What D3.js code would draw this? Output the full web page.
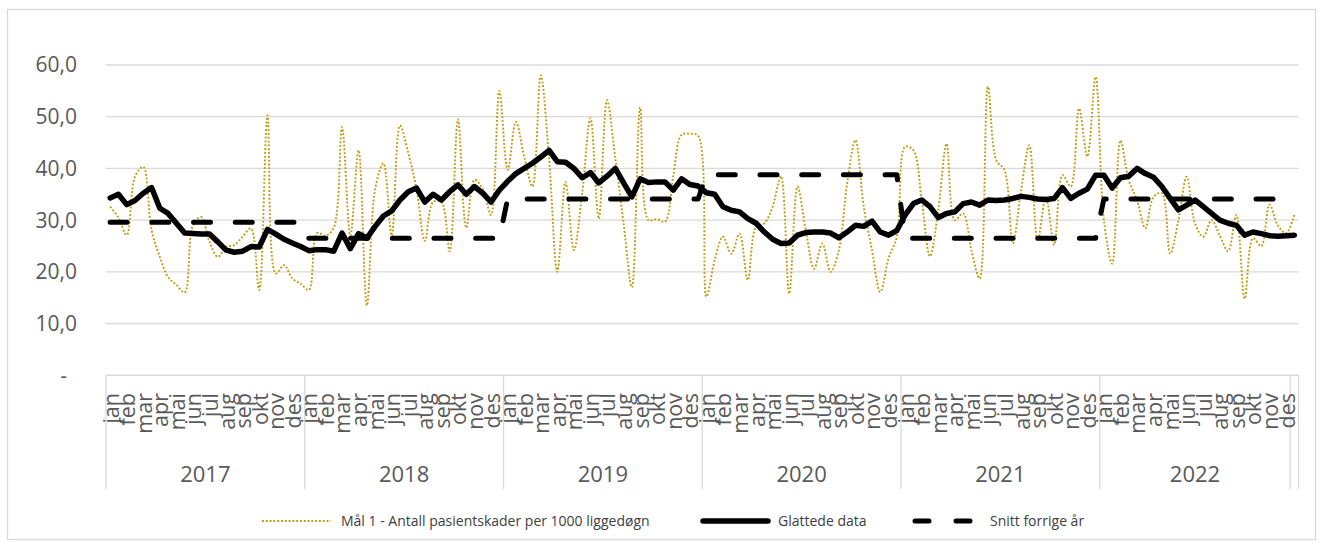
<!DOCTYPE html>
<html><head><meta charset="utf-8">
<script src="https://cdn.jsdelivr.net/npm/d3@7"></script>
<style>body{margin:0;background:#fff} text{font-family:"Open Sans",sans-serif}</style>
</head><body><svg id="c" width="1322" height="548"></svg>
<script>
const years = ["2017","2018","2019","2020","2021","2022"];
const months = ["jan","feb","mar","apr","mai","jun","jul","aug","sep","okt","nov","des"];
const yTicks = [0,10,20,30,40,50,60];
const pointsPerYear = 24;
const lastYearPoints = 23;
const seriesNames = ["Mål 1 - Antall pasientskader per 1000 liggedøgn","Glattede data","Snitt forrige år"];

const malData = [
 32.6,30.5,27.1,38.4,40.3,28.1,22.9,19.0,17.5,16.0,29.0,30.6,25.8,22.9,24.8,25.2,26.8,28.4,16.5,50.3,19.7,21.3,18.7,17.7,
 16.5,27.5,27.0,28.5,48.0,27.0,43.5,13.5,36.0,41.0,27.0,48.3,43.0,36.0,26.0,33.5,33.5,24.0,49.5,28.5,37.8,36.0,31.0,55.0,
 39.7,49.0,42.3,36.5,58.0,42.0,20.0,37.4,24.2,35.2,49.7,30.3,53.2,42.0,29.4,17.0,51.8,30.0,30.2,29.7,38.5,46.5,46.7,46.3,
 15.2,22.3,26.8,23.5,27.4,18.4,28.7,29.4,32.6,38.5,15.8,36.5,28.1,20.6,25.5,20.0,24.2,37.1,45.5,32.6,24.2,16.1,22.6,26.8,
 44.2,43.5,33.9,23.0,31.9,44.8,30.0,31.3,24.2,18.7,55.8,41.6,39.7,25.5,35.8,44.5,26.0,34.5,25.2,38.7,36.5,51.6,42.3,57.7,
 30.0,21.6,45.4,37.7,33.9,28.4,34.5,35.2,23.5,30.0,38.4,29.4,26.8,30.0,27.0,24.0,31.0,14.8,26.5,25.0,33.0,29.0,27.5,31.0
];
const glattedeData = [
 34.3,35.0,33.0,33.8,35.2,36.3,32.3,31.3,29.4,27.5,27.4,27.3,27.3,25.8,24.2,23.8,24.0,24.9,24.8,28.2,27.3,26.3,25.6,24.9,
 24.1,24.3,24.3,24.0,27.5,24.5,27.4,26.5,28.8,30.8,31.8,33.9,35.5,36.2,33.5,35.0,33.9,35.5,36.8,35.0,36.5,35.2,33.5,35.8,
 37.5,39.0,40.0,41.0,42.2,43.5,41.3,41.2,40.0,38.2,39.2,37.2,38.5,40.0,37.2,34.5,38.0,37.3,37.4,37.4,35.8,38.0,36.9,36.6,
 35.3,35.0,32.6,31.9,31.6,30.3,29.4,27.7,26.3,25.5,25.6,27.1,27.6,27.7,27.7,27.5,26.6,27.7,29.0,28.8,29.8,27.7,27.1,28.0,
 31.0,33.2,33.9,32.6,30.5,31.3,31.6,33.2,33.5,32.9,33.9,33.8,33.9,34.2,34.6,34.4,34.1,34.0,34.2,36.3,34.2,35.2,36.0,38.7,
 38.7,36.2,38.2,38.5,40.0,39.0,38.3,36.5,34.2,32.0,32.9,33.9,32.6,31.3,30.0,29.4,29.0,27.1,27.7,27.4,27.0,26.9,27.0,27.1
];
const snittForrigeAar = [29.6,26.5,34.1,38.8,26.5,34.1];

const N = malData.length;
const idx = d3.range(N);
const svg = d3.select("#c");
const gridC = "#d9d9d9", textC = "#595959";

// chart border
svg.append("rect").attr("x",7.5).attr("y",9.5).attr("width",1308).attr("height",530)
  .attr("fill","none").attr("stroke",gridC).attr("stroke-width",1.3);

const x = d3.scaleBand().domain(idx).range([106,1298.5]).padding(0);
const xc = i => x(i) + x.bandwidth()/2;
const y = d3.scaleLinear().domain([0,60]).range([375.3,65]);

// gridlines
svg.append("g").selectAll("line").data(yTicks).join("line")
  .attr("x1",106).attr("x2",1298.5).attr("y1",d=>y(d)).attr("y2",d=>y(d))
  .attr("stroke",gridC).attr("stroke-width",1.3);

// y labels
const fmt = v => v===0 ? "-" : d3.format(".1f")(v).replace(".",",");
svg.append("g").selectAll("text").data(yTicks).join("text")
  .attr("x",d=>d===0?67:77).attr("y",d=>y(d)).attr("dy","0.35em")
  .attr("text-anchor","end").attr("font-size",21).attr("fill",textC).text(fmt);

// x axis group dividers
const bounds = [];
years.forEach((yr,k)=>{ bounds.push(k*pointsPerYear); });
bounds.push((years.length-1)*pointsPerYear + lastYearPoints);
bounds.push(N);
svg.append("g").selectAll("line").data(bounds).join("line")
  .attr("x1",b=>b<N?x(b):x.range()[1]).attr("x2",b=>b<N?x(b):x.range()[1])
  .attr("y1",375.3).attr("y2",489).attr("stroke",gridC).attr("stroke-width",1.3);

// month labels (every two periods)
const monthLabels = [];
years.forEach((yr,k)=>{
  months.forEach((m,j)=>{
    const i0 = k*pointsPerYear + j*2;
    monthLabels.push({m, cx: x(i0) + x.bandwidth()});
  });
});
svg.append("g").selectAll("text").data(monthLabels).join("text")
  .attr("transform",d=>`translate(${d.cx},393) rotate(-90)`)
  .attr("dy","0.2em").attr("text-anchor","end").attr("font-size",21.5).attr("fill",textC)
  .text(d=>d.m);

// year labels
svg.append("g").selectAll("text").data(years).join("text")
  .attr("x",(d,k)=>{const a=x(bounds[k]); const b=x(bounds[k+1])||x.range()[1]; return (a+b)/2;})
  .attr("y",482).attr("text-anchor","middle").attr("font-size",22).attr("fill",textC).text(d=>d);

// axis line
svg.append("line").attr("x1",106).attr("x2",1298.5).attr("y1",375.3).attr("y2",375.3)
  .attr("stroke",gridC).attr("stroke-width",1.3);

// series
const gold = "#C29A10";
svg.append("path").datum(idx)
  .attr("d",d3.line().x(xc).y(i=>y(malData[i])).curve(d3.curveCatmullRom.alpha(0.5)))
  .attr("fill","none").attr("stroke",gold).attr("stroke-width",1.9).attr("stroke-dasharray","1.9 1.9");
svg.append("path").datum(idx)
  .attr("d",d3.line().x(xc).y(i=>y(glattedeData[i])))
  .attr("fill","none").attr("stroke","#000").attr("stroke-width",5.5).attr("stroke-linejoin","round").attr("stroke-linecap","round");
svg.append("path").datum(idx)
  .attr("d",d3.line().x(xc).y(i=>y(snittForrigeAar[Math.min(Math.floor(i/pointsPerYear),years.length-1)])))
  .attr("fill","none").attr("stroke","#000").attr("stroke-width",5).attr("stroke-linejoin","round")
  .attr("stroke-linecap","round").attr("stroke-dasharray","17 24.7");

// legend
const ly = 521;
const lg = svg.append("g").attr("font-size",14).attr("fill","#404040");
lg.append("line").attr("x1",262).attr("x2",331).attr("y1",ly).attr("y2",ly)
  .attr("stroke",gold).attr("stroke-width",1.9).attr("stroke-dasharray","1.9 1.9");
lg.append("text").attr("x",341).attr("y",ly).attr("dy","0.35em").text(seriesNames[0]);
lg.append("line").attr("x1",703).attr("x2",768).attr("y1",ly).attr("y2",ly)
  .attr("stroke","#000").attr("stroke-width",5.5).attr("stroke-linecap","round");
lg.append("text").attr("x",778).attr("y",ly).attr("dy","0.35em").text(seriesNames[1]);
lg.append("line").attr("x1",915).attr("x2",970).attr("y1",ly).attr("y2",ly)
  .attr("stroke","#000").attr("stroke-width",5).attr("stroke-linecap","round").attr("stroke-dasharray","14 27");
lg.append("text").attr("x",990).attr("y",ly).attr("dy","0.35em").text(seriesNames[2]);
</script></body></html>
